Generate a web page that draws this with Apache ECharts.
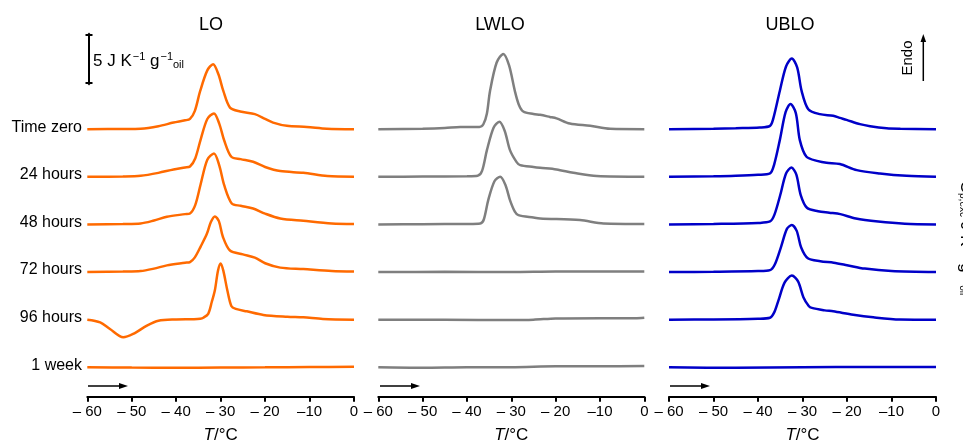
<!DOCTYPE html>
<html>
<head>
<meta charset="utf-8">
<title>DSC curves</title>
<script src="https://cdn.jsdelivr.net/npm/echarts@6/dist/echarts.min.js"></script>
<style>
    html, body { margin: 0; background: #fff; }
    #main { width: 963px; height: 444px; }
</style>
</head>
<body>
<div id="main"></div>
<script>
var rowNames = ['Time zero', '24 hours', '48 hours', '72 hours', '96 hours', '1 week'];
var panelNames = ['LO', 'LWLO', 'UBLO'];
var panelColors = ['#ff6a00', '#7f7f7f', '#0000c8'];
var tickValues = [-60, -50, -40, -30, -20, -10, 0];

// [T (°C), Cp (J K-1 g-1)], before stacking
var loT0 = [[-60,0],[-52,0.02],[-48,0.05],[-44,0.3],[-40.6,0.67],[-38,0.9],[-36.9,1.05],[-35.8,1.87],[-34.6,3.9],[-33,6.0],[-31.7,6.63],[-30.5,5.6],[-29.4,3.9],[-27.9,2.2],[-25.6,1.8],[-22.3,1.53],[-20,1.05],[-18.2,0.67],[-15.1,0.34],[-10.6,0.23],[-6.1,0.05],[0,0]];
var lo24 = [[-60,0],[-52,0.03],[-48,0.1],[-44,0.4],[-40.6,0.75],[-38,0.95],[-36.9,1.05],[-35.7,1.9],[-34.5,3.8],[-33,5.9],[-31.5,6.47],[-30.3,5.4],[-29.2,3.7],[-27.6,2.04],[-25.5,1.8],[-22.7,1.53],[-20,1.0],[-16.6,0.58],[-11.4,0.41],[-6,0.07],[0,0]];
var lo48 = [[-60,0],[-52,0.05],[-48,0.1],[-45,0.4],[-42.1,0.78],[-38,1.05],[-36.9,1.12],[-35.7,2.0],[-34.5,4.1],[-33,6.6],[-31.5,7.24],[-30.3,6.0],[-29.2,4.0],[-27.5,2.14],[-25.5,1.9],[-22.7,1.63],[-20,1.1],[-16.6,0.61],[-11.4,0.37],[-5,0.1],[0,0.05]];
var lo72 = [[-60,0],[-52,0.05],[-48,0.1],[-45,0.35],[-42.1,0.68],[-38,0.95],[-36.9,1.02],[-35.8,1.5],[-34.5,2.6],[-33.1,3.9],[-32.2,5.1],[-31.3,5.68],[-30.4,5.2],[-29.5,3.6],[-27.9,2.2],[-25,1.8],[-22.3,1.47],[-20,0.9],[-16.6,0.45],[-11.4,0.3],[-5,0.1],[0,0.05]];
var lo96 = [[-60,0],[-57.1,-0.27],[-54.9,-0.95],[-51.9,-1.8],[-49.7,-1.46],[-46.6,-0.61],[-44,-0.1],[-40,0.02],[-36,0.05],[-34.6,0.1],[-33.9,0.2],[-32.8,0.6],[-32,1.8],[-31.3,3.0],[-30.6,5.0],[-30,5.74],[-29.4,5.0],[-28.5,3.0],[-27.6,1.4],[-26.6,1.1],[-24.1,0.85],[-20.4,0.48],[-15,0.3],[-11.4,0.24],[-7,0.07],[0,0]];
var lo1w = [[-60,0],[-50,-0.03],[-40,-0.05],[-30,-0.02],[-20,0],[-10,0.03],[0,0.05]];

var lwT0 = [[-60,0],[-50,0.05],[-45,0.12],[-41.5,0.23],[-37.2,0.23],[-36.3,0.5],[-35.5,1.6],[-34.8,3.9],[-33.3,6.8],[-31.8,7.68],[-30.5,6.5],[-29.2,3.9],[-28.3,2.5],[-27.3,1.8],[-25,1.55],[-23.5,1.46],[-21.3,1.25],[-19.8,1.1],[-16.8,0.57],[-12.2,0.34],[-7.7,0.03],[0,0]];
var lw24 = [[-60,0],[-50,0.02],[-40,0.05],[-37.6,0.1],[-36.6,0.6],[-35.5,2.72],[-34,5.0],[-32.7,5.61],[-31.5,4.7],[-30.3,2.72],[-28.8,1.5],[-28,1.19],[-25,1.0],[-23.5,0.92],[-19.8,0.75],[-16,0.41],[-10.7,0.07],[0,0]];
var lw48 = [[-60,0],[-50,0.02],[-40,0.05],[-37,0.1],[-36.2,0.5],[-35.2,2.48],[-33.8,4.4],[-32.5,4.86],[-31.3,4.0],[-30.3,2.48],[-29.2,1.3],[-28.4,0.95],[-25,0.7],[-23.5,0.61],[-14.5,0.44],[-9.2,0.1],[0,0.05]];
var lw72 = [[-60,0],[-45,0.02],[-30,0],[-20,0.05],[-10,0.05],[0,0.05]];
var lw96 = [[-60,0],[-45,-0.02],[-30,-0.03],[-25,0],[-20,0.12],[-10,0.15],[-2,0.15],[0,0.2]];
var lw1w = [[-60,0],[-50,-0.05],[-40,0],[-30,0],[-20,0.1],[-10,0.1],[0,0.12]];

var ubT0 = [[-60,0],[-50,0.05],[-45,0.1],[-39.6,0.17],[-37.3,0.34],[-36.6,1.02],[-35.1,3.9],[-33.7,6.4],[-32.4,7.2],[-31.2,6.3],[-30.2,3.9],[-28.7,2.04],[-26.1,1.53],[-23.1,1.36],[-21.6,1.15],[-20.1,0.95],[-17.1,0.51],[-14.8,0.3],[-11.1,0.1],[-8,0.05],[0,0]];
var ub24 = [[-60,0],[-50,0.05],[-45,0.1],[-40,0.2],[-37.3,0.34],[-36.4,1.2],[-35.1,3.74],[-33.8,6.6],[-32.7,7.42],[-31.5,6.5],[-30.6,3.74],[-29.1,2.04],[-26.5,1.6],[-24.6,1.43],[-21.6,1.3],[-17.8,0.68],[-12.6,0.34],[-6.6,0.1],[0,0]];
var ub48 = [[-60,0],[-50,0.05],[-40,0.15],[-37.3,0.3],[-36.3,1.0],[-35,3.0],[-33.7,5.2],[-32.5,5.8],[-31.4,5.1],[-30.4,3.0],[-29,1.7],[-26.5,1.35],[-24,1.2],[-21.5,1.05],[-18,0.6],[-13,0.3],[-7,0.08],[0,0]];
var ub72 = [[-60,0],[-50,0.03],[-40,0.1],[-37.3,0.2],[-36.2,0.8],[-34.8,2.6],[-33.5,4.4],[-32.4,4.8],[-31.3,4.2],[-30.3,2.5],[-28.8,1.4],[-26,1.1],[-23,0.95],[-20,0.7],[-16,0.35],[-10,0.1],[0,0]];
var ub96 = [[-60,0],[-50,0.02],[-40,0.1],[-37.3,0.2],[-36.3,0.8],[-35.4,1.97],[-34,3.8],[-32.4,4.5],[-31,3.9],[-29.8,2.3],[-28.6,1.4],[-27.9,1.2],[-25,0.95],[-23.1,0.85],[-18.6,0.5],[-14.1,0.24],[-8.1,0.02],[0,0]];
var ub1w = [[-60,0],[-45,-0.05],[-30,0],[-15,0.03],[0,0.03]];

var panelData = [
    [loT0, lo24, lo48, lo72, lo96, lo1w],
    [lwT0, lw24, lw48, lw72, lw96, lw1w],
    [ubT0, ub24, ub48, ub72, ub96, ub1w]
];
var rowStep = 4.86;

var font = 'Liberation Sans, Arial, Helvetica, sans-serif';
var chart = echarts.init(document.getElementById('main'));

var gridLefts = [87.3, 378.3, 669];
var gridWidths = [266.7, 266, 267];

var grids = [], xAxes = [], yAxes = [], series = [];
for (var p = 0; p < 3; p++) {
    grids.push({ left: gridLefts[p], width: gridWidths[p], top: 14.5, height: 382.2, outerBoundsMode: 'none', containLabel: false });
    xAxes.push({
        gridIndex: p, type: 'value', min: -60, max: 0, interval: 10,
        axisLine: { onZero: false, lineStyle: { color: '#000', width: 2 } },
        axisTick: { length: 5, lineStyle: { color: '#000', width: 2 } },
        splitLine: { show: false },
        axisLabel: {
            color: '#000', fontSize: 15, fontFamily: font, margin: 8,
            formatter: function (v) {
                if (v === 0) return '0';
                if (v === -10) return '\u201310';
                return '\u2013 ' + Math.abs(v);
            }
        },
        name: '{i|T}/°C', nameLocation: 'middle', nameGap: 30,
        nameTextStyle: {
            color: '#000', fontSize: 17, fontFamily: font,
            rich: { i: { fontStyle: 'italic', fontSize: 17, fontFamily: font, color: '#000' } }
        }
    });
    yAxes.push({ gridIndex: p, type: 'value', min: -3, max: 36, show: false });
    for (var r = 0; r < 6; r++) {
        var off = (5 - r) * rowStep;
        series.push({
            name: panelNames[p] + ' ' + rowNames[r],
            type: 'line', xAxisIndex: p, yAxisIndex: p,
            smooth: 0.3, showSymbol: false,
            lineStyle: { color: panelColors[p], width: 2.5 },
            data: panelData[p][r].map(function (d) { return [d[0], d[1] + off]; })
        });
    }
}

chart.setOption({
    animation: false,
    grid: grids, xAxis: xAxes, yAxis: yAxes, series: series
});

// annotations
var g = [];
var titleX = [211, 500, 790];
panelNames.forEach(function (n, i) {
    g.push({ type: 'text', x: titleX[i], y: 25, style: { text: n, font: '18px ' + font, fill: '#000', align: 'center', verticalAlign: 'middle' } });
});
rowNames.forEach(function (n, r) {
    var pt = chart.convertToPixel({ gridIndex: 0 }, [-60, (5 - r) * rowStep]);
    g.push({ type: 'text', x: 82, y: pt[1] - 2, style: { text: n, font: '16px ' + font, fill: '#000', align: 'right', verticalAlign: 'middle' } });
});
// scale bar
g.push({ type: 'line', shape: { x1: 89, y1: 35, x2: 89, y2: 83 }, style: { stroke: '#000', lineWidth: 2 } });
g.push({ type: 'line', shape: { x1: 85.5, y1: 35, x2: 92.5, y2: 35 }, style: { stroke: '#000', lineWidth: 2 } });
g.push({ type: 'line', shape: { x1: 85.5, y1: 83, x2: 92.5, y2: 83 }, style: { stroke: '#000', lineWidth: 2 } });
g.push({ type: 'polygon', shape: { points: [[86, 36], [89, 32.5], [92, 36]] }, style: { fill: '#000' } });
g.push({ type: 'polygon', shape: { points: [[86, 82], [89, 85.5], [92, 82]] }, style: { fill: '#000' } });
g.push({
    type: 'text', x: 93, y: 61,
    style: {
        text: '{n|5 J K}{sup|\u22121}{n| g}{sup|\u22121}{sub|oil}',
        verticalAlign: 'middle', fill: '#000',
        rich: {
            n: { fontSize: 17, fontFamily: font, fill: '#000' },
            sup: { fontSize: 11, fontFamily: font, fill: '#000', padding: [0, 0, 9, 1] },
            sub: { fontSize: 11, fontFamily: font, fill: '#000', padding: [7, 0, 0, 0] }
        }
    }
});
// Endo arrow
g.push({ type: 'text', x: 908, y: 58, rotation: Math.PI / 2, style: { text: 'Endo', font: '15px ' + font, fill: '#000', align: 'center', verticalAlign: 'middle' } });
g.push({ type: 'line', shape: { x1: 923.3, y1: 81, x2: 923.3, y2: 40 }, style: { stroke: '#000', lineWidth: 1.5 } });
g.push({ type: 'polygon', shape: { points: [[923.3, 34], [920.5, 42], [926.1, 42]] }, style: { fill: '#000' } });
// heating direction arrows
[88, 380, 670].forEach(function (x0) {
    g.push({ type: 'line', shape: { x1: x0, y1: 386, x2: x0 + 33, y2: 386 }, style: { stroke: '#000', lineWidth: 1.5 } });
    g.push({ type: 'polygon', shape: { points: [[x0 + 40, 386], [x0 + 31, 383], [x0 + 31, 389]] }, style: { fill: '#000' } });
});
// cut-off axis title on the right edge
g.push({
    type: 'text', x: 966, y: 238, rotation: -Math.PI / 2,
    style: {
        text: '{n|C}{sub|p,exc}{n| J K}{sup|\u22121}{n| g}{sup|\u22121}{sub|oil}',
        align: 'center', verticalAlign: 'middle', fill: '#000',
        rich: {
            n: { fontSize: 17, fontFamily: font, fill: '#000' },
            sup: { fontSize: 10, fontFamily: font, fill: '#000', padding: [0, 0, 9, 1] },
            sub: { fontSize: 10, fontFamily: font, fill: '#000', padding: [7, 0, 0, 0] }
        }
    }
});

chart.setOption({ graphic: g });
</script>
</body>
</html>
